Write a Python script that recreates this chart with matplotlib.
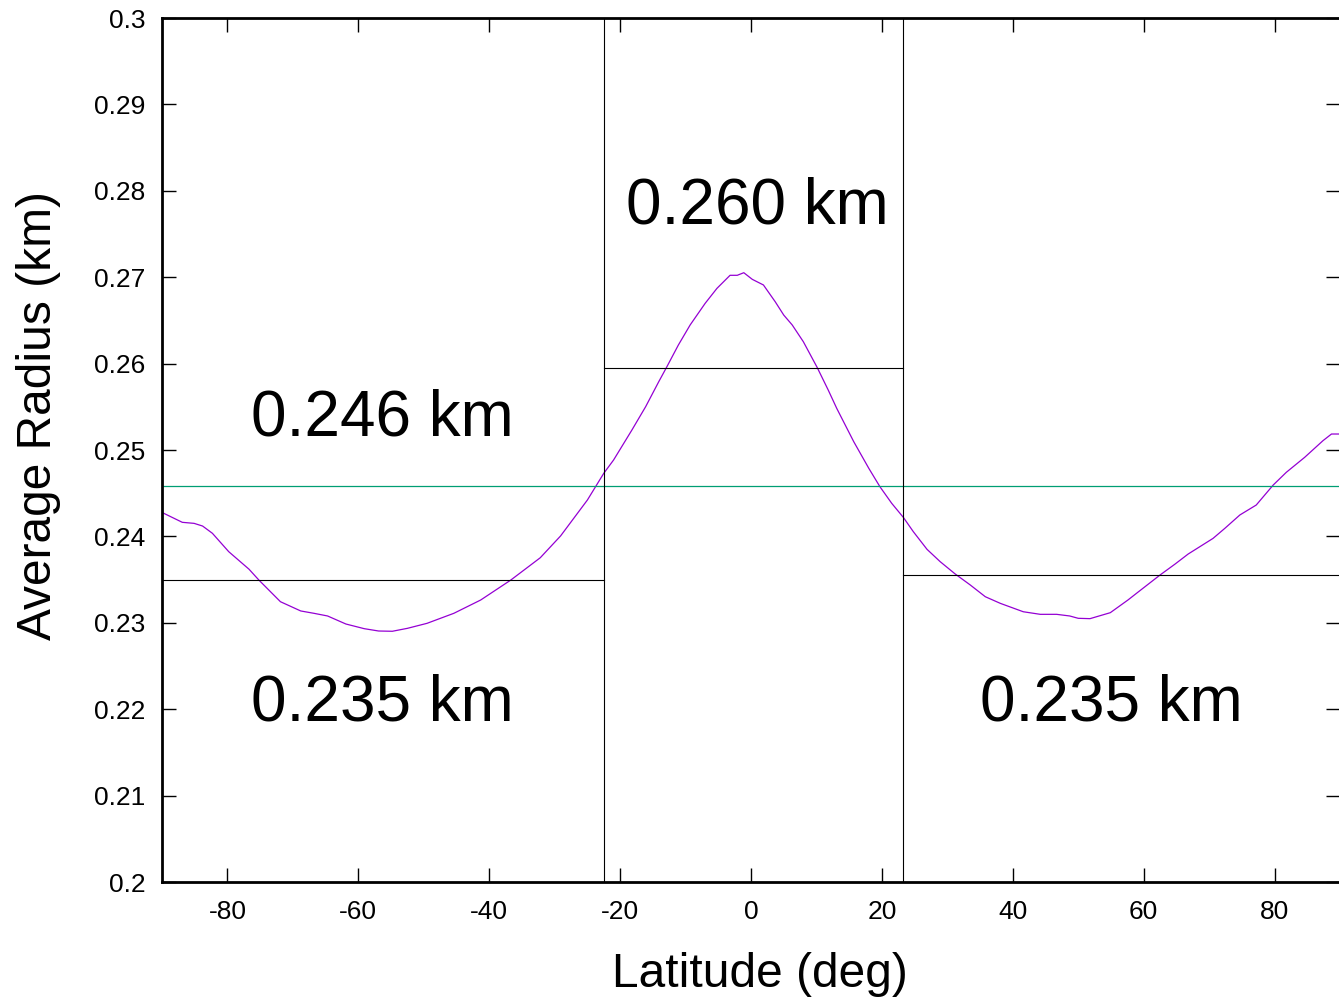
import matplotlib
matplotlib.use("Agg")
import matplotlib.pyplot as plt

plt.rcParams['font.family'] = ['Liberation Sans', 'DejaVu Sans']
plt.rcParams['axes.unicode_minus'] = False

lat = [-89.8, -86.9, -85.1, -83.8, -82.3, -79.8, -76.7, -75.2, -71.9, -68.8, -66.8, -64.7,
       -61.9, -59.1, -56.9, -54.8, -52.5, -49.5, -45.4, -41.3, -36.7, -32.2, -29.1, -25.0,
       -22.5, -21.0, -18.2, -16.1, -14.1, -12.9, -11.1, -9.3, -7.0, -5.2, -3.2, -2.1, -1.1,
       0.2, 1.9, 3.7, 5.0, 6.3, 8.0, 10.1, 11.8, 13.1, 15.7, 18.0, 19.7, 21.5, 23.3, 24.8,
       26.9, 28.9, 31.2, 33.5, 35.8, 38.1, 41.6, 44.2, 46.7, 48.7, 50.0, 51.8, 54.9, 57.6,
       58.9, 62.5, 64.8, 66.8, 70.6, 72.4, 74.7, 77.2, 79.8, 81.8, 84.6, 87.4, 88.7, 90.0]
radius = [0.2427, 0.24163, 0.24151, 0.2412, 0.24036, 0.23823, 0.2362, 0.23495, 0.23244,
          0.23137, 0.2311, 0.23079, 0.22986, 0.22932, 0.22905, 0.22902, 0.22936, 0.22994,
          0.2311, 0.23264, 0.23495, 0.23753, 0.24005, 0.24421, 0.2473, 0.24884, 0.25231,
          0.25501, 0.2579, 0.25957, 0.26215, 0.26447, 0.26698, 0.26871, 0.27022, 0.27022,
          0.27052, 0.26975, 0.2691, 0.26716, 0.26562, 0.26447, 0.26253, 0.25957, 0.25694,
          0.25482, 0.25096, 0.24788, 0.24575, 0.24383, 0.24218, 0.24055, 0.2385, 0.23708,
          0.23565, 0.23438, 0.23302, 0.23225, 0.23128, 0.23098, 0.23098, 0.23079, 0.23052,
          0.23048, 0.23117, 0.23264, 0.23341, 0.23553, 0.2368, 0.23796, 0.23977, 0.24093,
          0.24248, 0.24363, 0.24595, 0.24742, 0.24915, 0.25108, 0.25185, 0.25185]

global_mean = 0.2458
zone_bounds = [-90, -22.5, 23.3, 90]
zone_means = [0.235, 0.2595, 0.2355]
zone_labels = ["0.235 km", "0.260 km", "0.235 km"]
global_label = "0.246 km"

fig = plt.figure(figsize=(13.39, 10.01), dpi=100)
W, H = 1339, 1001
ax = fig.add_axes([162 / W, (H - 882) / H, (1340 - 162) / W, (882 - 18) / H])

ax.plot(lat, radius, color='#9400d3', lw=0.9)
ax.axhline(global_mean, color='#009e73', lw=0.9)
for i in range(3):
    ax.plot([zone_bounds[i], zone_bounds[i + 1]], [zone_means[i]] * 2, color='black', lw=0.8)
for b in zone_bounds[1:3]:
    ax.axvline(b, color='black', lw=0.8)

ax.set_xlim(-90, 90)
ax.set_ylim(0.2, 0.3)
ax.set_xticks([-80, -60, -40, -20, 0, 20, 40, 60, 80])
ax.set_yticks([0.2, 0.21, 0.22, 0.23, 0.24, 0.25, 0.26, 0.27, 0.28, 0.29, 0.3])
ax.set_yticklabels(['0.2', '0.21', '0.22', '0.23', '0.24', '0.25', '0.26', '0.27', '0.28', '0.29', '0.3'])
ax.tick_params(direction='in', top=True, right=True, length=10, width=1.0,
               labelsize=19)
ax.tick_params(axis='x', pad=13)
ax.tick_params(axis='y', pad=12)
for s in ax.spines.values():
    s.set_linewidth(2.0)

ax.set_xlabel('Latitude (deg)', fontsize=34.5, labelpad=20)
ax.set_ylabel('Average Radius (km)', fontsize=34.5, labelpad=24)
ax.xaxis.label.set_x(0.5076)
ax.yaxis.label.set_y(0.5405)

ax.text(-56.3, 0.2537, global_label, fontsize=46, ha='center', va='center')
ax.text(0.9, 0.2782, zone_labels[1], fontsize=46, ha='center', va='center')
ax.text(-56.3, 0.2207, zone_labels[0], fontsize=46, ha='center', va='center')
ax.text(55.0, 0.2207, zone_labels[2], fontsize=46, ha='center', va='center')

fig.savefig('out.png', dpi=100)
